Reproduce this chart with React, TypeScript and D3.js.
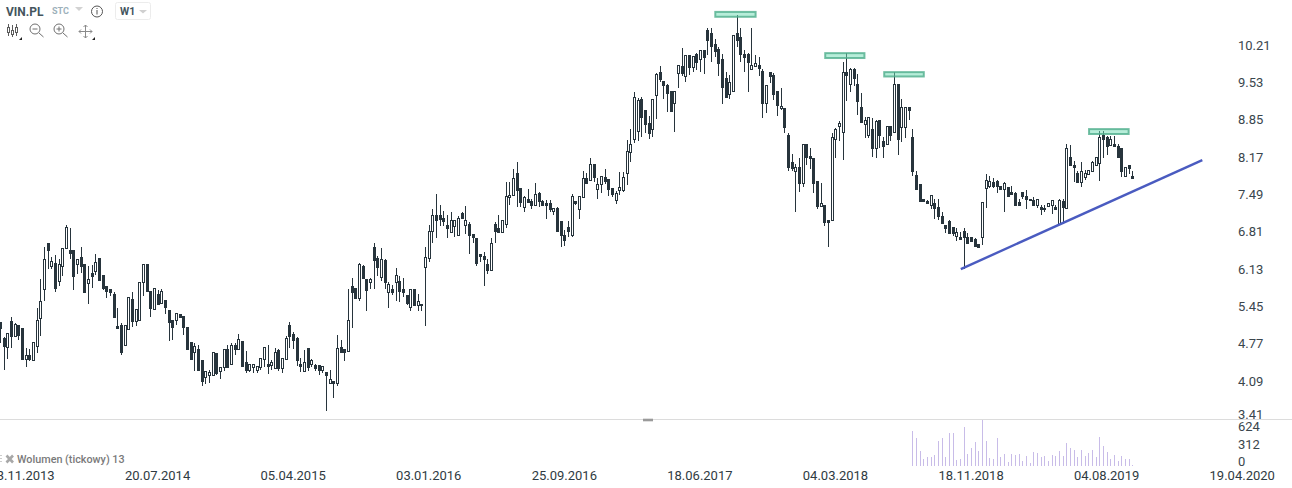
import React from "react";
import * as d3 from "d3";

const symbol = "VIN.PL";
const marketLabel = "STC";
const intervalLabel = "W1";
const volumeLabel = "Wolumen (tickowy) 13";

const opens = [
5.11,4.81,4.65,5.12,4.85,5.05,4.99,4.43,4.49,4.41,
4.67,5.18,5.71,6.57,6.14,6.19,5.87,6.14,6.46,6.43,
6.43,6.18,6.30,6.17,5.83,6.00,6.05,6.28,5.97,5.76,
5.71,5.63,5.04,5.05,4.69,4.97,5.53,5.13,5.15,5.84,
6.17,5.68,5.35,5.63,5.45,5.51,5.32,5.14,5.14,5.25,
5.22,5.01,4.73,4.56,4.60,4.40,4.10,4.13,4.12,4.53,
4.20,4.27,4.60,4.33,4.69,4.61,4.75,4.36,4.23,4.27,
4.23,4.27,4.42,4.34,4.32,4.25,4.59,4.26,4.42,5.05,
4.88,4.81,4.34,4.20,4.62,4.34,4.31,4.31,4.23,4.18,
3.99,4.02,3.99,4.64,4.60,4.58,5.76,5.74,5.55,6.13,
5.89,5.85,6.48,6.28,5.94,6.25,5.65,5.71,5.85,5.87,
5.71,5.60,5.39,5.71,5.42,5.41,6.11,6.28,6.79,7.07,
7.08,7.03,6.89,6.76,6.87,6.71,7.11,6.89,6.92,6.72,
6.66,6.35,6.32,6.17,6.06,6.92,6.83,6.76,6.91,7.40,
7.44,7.85,7.57,7.22,7.38,7.33,7.27,7.48,7.33,7.29,
7.29,7.16,7.20,6.96,6.70,6.85,6.70,7.33,7.18,7.40,
7.75,7.73,8.01,7.55,7.64,7.78,7.74,7.57,7.36,7.53,
7.54,7.86,8.23,8.48,8.63,9.21,9.02,8.78,8.67,9.28,
9.71,9.54,9.47,9.36,9.15,9.70,9.83,9.63,10.02,9.80,
10.04,9.96,10.11,10.48,10.44,10.22,10.13,9.96,9.60,9.30,
9.37,10.44,10.35,10.04,10.04,9.76,9.83,9.85,9.74,9.15,
9.71,9.65,9.36,9.04,9.04,8.55,8.05,7.89,7.97,7.66,
8.38,8.16,8.12,7.70,7.25,7.27,6.99,6.99,8.48,8.71,
8.61,9.71,9.50,9.76,9.49,9.06,8.75,8.55,8.67,8.32,
8.82,8.44,8.38,8.71,8.61,9.50,8.69,8.69,9.06,8.51,
7.81,7.64,7.38,7.33,7.27,7.29,7.22,7.05,6.89,6.96,
6.85,6.69,6.68,6.78,6.68,6.68,6.64,6.55,6.68,7.57,
7.62,7.68,7.70,7.61,7.55,7.59,7.51,7.48,7.31,7.50,
7.42,7.38,7.35,7.27,7.22,7.18,7.24,7.27,7.22,6.92,
7.33,7.20,8.14,7.99,7.86,7.68,7.77,7.84,7.89,7.99,
8.03,8.56,8.51,8.37,8.38,8.34,8.31,7.79,7.99,7.79,
];

const closes = [
5.00,4.67,4.90,4.85,5.07,4.87,4.42,4.49,4.42,4.73,
5.15,5.49,6.26,6.44,6.23,5.74,6.17,6.46,6.85,6.38,
5.96,6.26,6.14,5.66,5.89,5.96,6.22,5.88,5.74,5.68,
5.66,5.20,5.00,4.56,5.05,5.56,5.13,5.34,5.84,6.17,
5.68,5.37,5.74,5.44,5.67,5.39,5.11,5.02,5.27,5.20,
5.01,4.61,4.42,4.66,4.22,4.02,4.20,4.18,4.55,4.16,
4.28,4.60,4.28,4.69,4.61,4.79,4.30,4.23,4.33,4.33,
4.29,4.44,4.64,4.30,4.36,4.55,4.25,4.44,4.81,4.85,
4.78,4.41,4.30,4.36,4.28,4.40,4.26,4.23,4.29,4.12,
4.05,3.99,4.62,4.56,4.56,5.15,5.65,5.55,6.17,5.92,
5.70,5.89,6.25,6.11,6.26,5.85,5.80,5.66,5.98,5.68,
5.66,5.46,5.71,5.42,5.50,5.44,6.31,6.79,7.07,6.99,
7.01,6.97,6.84,6.98,6.98,7.03,7.02,6.98,6.70,6.68,
6.20,6.32,6.27,6.06,6.57,6.79,6.76,6.98,7.42,7.44,
7.75,7.54,7.32,7.40,7.32,7.27,7.46,7.33,7.27,7.26,
7.19,7.20,6.79,6.70,6.61,6.78,7.42,7.29,7.42,7.75,
7.66,8.01,7.77,7.64,7.79,7.70,7.56,7.46,7.48,7.59,
7.78,8.25,8.38,9.26,9.19,8.89,8.76,8.58,9.21,9.67,
9.59,9.47,9.33,8.99,9.37,9.85,9.69,10.02,9.80,10.00,
9.90,10.11,9.98,10.31,10.19,10.10,9.87,9.44,9.25,9.52,
10.39,10.31,10.04,9.99,9.90,9.85,9.87,9.79,9.15,9.47,
9.63,9.31,9.10,9.08,8.70,7.97,7.95,7.97,7.66,8.38,
8.15,8.12,7.67,7.25,7.29,6.95,6.95,8.51,8.66,8.77,
9.72,9.66,9.76,9.61,9.17,8.80,8.83,8.89,8.32,8.81,
8.56,8.34,8.71,8.56,9.50,8.48,9.06,9.06,9.02,7.88,
7.56,7.33,7.34,7.29,7.45,7.20,7.05,6.93,6.84,6.75,
6.75,6.76,6.64,6.68,6.57,6.60,6.51,6.49,7.32,7.72,
7.70,7.62,7.62,7.55,7.66,7.43,7.46,7.26,7.27,7.43,
7.37,7.35,7.27,7.38,7.18,7.21,7.29,7.35,7.18,7.35,
7.23,8.31,7.99,7.96,7.68,7.88,7.86,7.90,8.05,8.14,
8.51,8.48,8.35,8.47,8.34,8.14,7.88,7.96,7.94,7.75,
];

const highs = [
5.11,4.83,4.90,5.19,5.08,5.05,4.99,4.62,4.60,4.73,
5.36,5.89,6.48,6.57,6.31,6.34,6.26,6.46,6.90,6.83,
6.43,6.26,6.49,6.17,6.13,6.16,6.35,6.28,5.97,5.76,
5.71,5.65,5.36,5.08,5.05,5.57,5.65,5.34,5.84,6.17,
6.17,5.68,5.74,5.69,5.72,5.51,5.32,5.14,5.27,5.25,
5.22,5.01,4.73,4.71,4.69,4.40,4.20,4.22,4.56,4.53,
4.28,4.60,4.69,4.71,4.71,4.88,4.75,4.57,4.33,4.33,
4.29,4.44,4.64,4.68,4.40,4.62,4.60,4.44,4.85,5.10,
4.93,4.82,4.44,4.59,4.62,4.42,4.33,4.31,4.29,4.19,
4.22,4.02,4.86,4.77,4.60,5.71,5.91,5.74,6.19,6.15,
5.89,5.92,6.57,6.33,6.46,6.26,5.84,5.79,6.10,5.95,
5.91,5.61,5.71,5.71,5.63,5.44,6.49,6.89,7.18,7.46,
7.27,7.16,7.08,7.13,6.98,7.05,7.14,7.24,6.94,6.72,
6.66,6.35,6.39,6.27,6.66,6.94,7.07,6.98,7.68,7.68,
7.92,8.05,7.57,7.42,7.55,7.38,7.66,7.50,7.35,7.35,
7.35,7.20,7.22,6.96,6.81,6.96,7.46,7.33,7.42,7.88,
7.86,8.12,8.01,7.75,7.79,7.92,7.74,7.57,7.52,7.87,
7.87,8.46,8.67,9.34,9.23,9.25,9.02,8.91,9.21,9.69,
9.82,9.54,9.49,9.36,9.37,9.85,10.15,10.02,10.02,10.00,
10.06,10.11,10.11,10.52,10.52,10.32,10.17,10.04,9.72,9.66,
10.39,10.77,10.52,10.11,10.07,10.52,10.02,9.98,9.76,9.47,
9.71,9.69,9.36,9.41,9.04,8.58,8.21,8.02,8.12,8.38,
8.38,8.32,8.12,7.70,7.66,7.27,6.99,8.58,8.68,8.81,
9.89,10.07,9.78,9.78,9.67,9.32,8.88,8.89,8.86,8.83,
8.82,8.51,8.71,8.71,9.72,9.50,9.22,9.06,9.06,8.67,
7.88,7.64,7.38,7.35,7.45,7.38,7.37,7.14,6.89,6.98,
6.85,6.83,6.77,6.83,6.74,6.68,6.66,6.55,7.32,7.83,
7.79,7.75,7.72,7.61,7.69,7.59,7.62,7.51,7.38,7.50,
7.53,7.38,7.40,7.38,7.26,7.27,7.29,7.35,7.27,7.37,
7.37,8.39,8.36,8.07,7.88,8.05,7.91,7.90,8.07,8.14,
8.62,8.62,8.54,8.54,8.53,8.38,8.31,7.97,7.99,7.88,
];

const lows = [
4.71,4.22,4.42,4.62,4.85,4.77,4.42,4.28,4.39,4.41,
4.54,4.85,5.50,6.08,6.08,5.66,5.76,5.96,6.46,6.27,
5.70,5.99,6.00,5.66,5.44,5.74,5.97,5.86,5.70,5.55,
5.58,5.20,4.98,4.49,4.69,4.97,5.01,5.04,5.15,5.59,
5.66,5.20,5.35,5.41,5.45,5.25,4.76,4.78,5.05,5.20,
4.87,4.60,4.42,4.20,4.22,3.93,3.96,3.99,4.12,4.13,
4.05,4.21,4.27,4.33,4.50,4.61,4.30,4.17,4.18,4.17,
4.17,4.22,4.28,4.15,4.22,4.24,4.20,4.17,4.42,4.63,
4.61,4.30,4.19,4.20,4.20,4.27,4.20,4.12,4.16,3.47,
3.99,3.71,3.93,4.54,4.39,4.58,5.00,5.55,5.50,5.90,
5.30,5.72,5.72,5.95,5.87,5.71,5.37,5.61,5.50,5.48,
5.57,5.41,5.30,5.41,5.31,5.31,5.04,6.22,6.57,6.66,
6.88,6.88,6.66,6.76,6.68,6.70,7.02,6.72,6.36,6.57,
6.13,6.22,5.77,5.99,6.06,6.57,6.76,6.76,6.83,7.27,
7.42,7.23,7.23,7.14,7.31,7.18,7.27,7.23,7.26,7.01,
7.14,7.08,6.79,6.48,6.51,6.67,6.68,7.26,7.01,7.40,
7.64,7.70,7.69,7.38,7.48,7.65,7.42,7.40,7.28,7.45,
7.51,7.63,8.06,8.41,8.45,8.52,8.59,8.48,8.51,8.85,
9.52,9.21,8.98,8.98,8.61,9.42,9.63,9.53,9.66,9.72,
9.75,9.72,9.68,10.02,9.89,9.98,9.64,9.12,9.23,9.21,
9.37,10.18,9.89,9.72,9.35,9.76,9.83,9.63,8.87,8.96,
9.51,9.20,8.91,9.02,8.59,7.89,7.89,7.14,7.51,7.59,
8.00,7.93,7.48,7.18,7.25,6.88,6.49,6.99,8.12,8.45,
8.09,9.17,9.34,9.46,8.92,8.79,8.50,8.50,8.15,8.12,
8.32,8.12,8.38,8.45,8.61,8.19,8.43,8.50,8.82,7.80,
7.56,7.32,7.32,7.29,7.18,7.00,6.98,6.92,6.75,6.75,
6.69,6.60,6.62,6.09,6.57,6.59,6.49,6.49,6.53,7.21,
7.57,7.58,7.49,7.53,7.14,7.41,7.44,7.24,7.26,7.38,
7.19,7.33,7.25,7.21,7.08,7.14,7.22,7.10,7.18,6.92,
6.92,7.20,7.98,7.69,7.68,7.60,7.73,7.84,7.88,7.99,
7.71,8.12,8.19,8.37,8.34,8.12,7.78,7.79,7.84,7.75,
];

const volumeStartBar = 249;
const volumes = [
475,380,203,95,122,122,149,339,380,122,
447,447,81,95,529,163,244,325,203,624,
339,108,95,380,122,163,54,163,149,163,
68,136,36,190,176,122,136,68,149,136,
203,136,312,244,217,122,217,136,176,217,
122,393,271,190,95,149,68,136,95,95,13,
];

const priceTicks = ["10.21","9.53","8.85","8.17","7.49","6.81","6.13","5.45","4.77","4.09","3.41"];
const volumeTicks = [624, 312, 0];
const dateBars = [6,43,80,117,154,191,228,265,302,339];
const dateLabels = ["03.11.2013","20.07.2014","05.04.2015","03.01.2016","25.09.2016","18.06.2017","04.03.2018","18.11.2018","04.08.2019","19.04.2020"];

const zoneBars = [[195.2,206.2],[225.2,235.9],[241.3,252.1],[297.2,308]];
const zonePrices = [[10.82,10.73],[10.06,9.97],[9.71,9.63],[8.66,8.57]];
const trendBars = [262.2, 328.1];
const trendPrices = [6.08, 8.09];

const WIDTH = 1292;
const HEIGHT = 488;
const INK = "#27343c";
const FONT = "Roboto, sans-serif";

export default function App() {
  const x = d3.scaleLinear().domain([0, 309]).range([0, 1132.3]);
  const y = d3.scaleLinear().domain([3.41, 10.21]).range([414, 45]);
  // tick labels sit on their own evenly spaced ladder; the lowest one is held above the separator
  const yPriceLabel = d3.scaleLinear().domain([4.09, 10.21]).range([381, 45]);
  const yVol = d3.scaleLinear().domain([0, 624]).range([466, 420]);
  const yVolLabel = d3.scaleLinear().domain([0, 624]).range([461.5, 426.5]);
  const trend = d3.line<number>().x((d) => x(d)).y((_, i) => y(trendPrices[i]));

  return (
    <svg
      width={WIDTH}
      height={HEIGHT}
      viewBox={`0 0 ${WIDTH} ${HEIGHT}`}
      style={{ position: "absolute", left: 0, top: 0, background: "#fff", fontFamily: FONT }}
    >
      {/* candles */}
      <g>
        {opens.map((o, i) => {
          const c = closes[i];
          const cx = Math.round(x(i));
          const up = c > o;
          const top = Math.round(y(Math.max(o, c)));
          const bottom = Math.round(y(Math.min(o, c)));
          return (
            <g key={i} shapeRendering="crispEdges">
              <line x1={cx + 0.5} x2={cx + 0.5} y1={y(highs[i])} y2={y(lows[i])} stroke={INK} strokeWidth={1} />
              {up ? (
                <rect x={cx - 0.5} y={top + 0.5} width={2} height={Math.max(1, bottom - top)} fill="#fff" stroke={INK} strokeWidth={1} />
              ) : (
                <rect x={cx - 1} y={top} width={3} height={Math.max(2, bottom - top + 1)} fill={INK} />
              )}
            </g>
          );
        })}
      </g>

      {/* resistance zones */}
      {zoneBars.map((b, i) => (
        <rect
          key={i}
          x={x(b[0])}
          width={x(b[1]) - x(b[0])}
          y={y(zonePrices[i][0])}
          height={y(zonePrices[i][1]) - y(zonePrices[i][0])}
          fill="#6fdcb4"
          fillOpacity={0.5}
          stroke="#4fae8c"
          strokeOpacity={0.8}
          strokeWidth={2}
        />
      ))}

      {/* trend line */}
      <path d={trend(trendBars) as string} fill="none" stroke="#4a5bc0" strokeWidth={2.4} />

      {/* separator */}
      <line x1={0} x2={WIDTH} y1={419.5} y2={419.5} stroke="#dcdcdc" strokeWidth={1.2} />
      <rect x={643} y={418.7} width={10} height={2.6} fill="#9a9a9a" />

      {/* volume */}
      <g shapeRendering="crispEdges">
        {volumes.map((v, i) => {
          const cx = Math.round(x(volumeStartBar + i));
          return <rect key={i} x={cx} y={yVol(v)} width={1} height={466 - yVol(v)} fill="#c8bce8" />;
        })}
      </g>

      {/* price axis */}
      <g fontSize={13} fill="#3a464d">
        {priceTicks.map((t) => (
          <text key={t} x={1238} y={Math.min(yPriceLabel(+t), 414)} dy="0.35em">{t}</text>
        ))}
        {volumeTicks.map((t) => (
          <text key={t} x={1238} y={yVolLabel(t)} dy="0.35em">{t}</text>
        ))}
      </g>

      {/* date axis */}
      <g fontSize={13} fill="#2f3b42" textAnchor="middle">
        {dateBars.map((b, i) => (
          <text key={b} x={x(b)} y={480}>{dateLabels[i]}</text>
        ))}
      </g>

      {/* volume legend */}
      <g>
        <rect x={0} y={455} width={2} height={1} fill="#ccc" />
        <rect x={0} y={458} width={2} height={1} fill="#ccc" />
        <rect x={0} y={461} width={2} height={1} fill="#ccc" />
        <path d="M6.5 455.5 L13 462.5 M13 455.5 L6.5 462.5" stroke="#a8a8a8" strokeWidth={2.6} fill="none" />
        <text x={17} y={463} fontSize={10.8} fontWeight={500} fill="#7a7a7a">{volumeLabel}</text>
      </g>

      {/* header */}
      <text x={6} y={15.5} fontSize={12} fontWeight={700} fill="#45555e">{symbol}</text>
      <text x={52} y={14} fontSize={9} fontWeight={700} fill="#9db1bb">{marketLabel}</text>
      <path d="M75 7 H83 L79 11 Z" fill="#d2d2d2" />
      <circle cx={97} cy={11.5} r={5.5} fill="none" stroke="#555" strokeWidth={1} />
      <rect x={96.5} y={8} width={1} height={1} fill="#555" />
      <rect x={96.5} y={10} width={1} height={4.5} fill="#555" />
      <rect x={115.5} y={2.5} width={35} height={17} rx={2} fill="#fff" stroke="#ececec" />
      <text x={120} y={15} fontSize={10.5} fontWeight={700} fill="#45555e">{intervalLabel}</text>
      <path d="M139 10 H147 L143 13.5 Z" fill="#d0d0d0" />

      {/* toolbar */}
      <g stroke="#5c5c5c" fill="none" strokeWidth={1}>
        <path d="M8.5 24 V36 M12.5 25 V37 M16.5 24 V36" />
        <rect x={7.5} y={27.5} width={2} height={5} fill="#fff" />
        <rect x={11.5} y={30.5} width={2} height={4} fill="#fff" />
        <rect x={15.5} y={27.5} width={2} height={5} fill="#fff" />
      </g>
      <g stroke="#707070" fill="none" strokeWidth={1}>
        <circle cx={35} cy={29} r={5} />
        <path d="M32.5 29 H37.5 M39 33 L43.5 37" />
        <circle cx={59} cy={29} r={5} />
        <path d="M56.5 29 H61.5 M59 26.5 V31.5 M63 33 L67.5 37" />
      </g>
      <g stroke="#8a8a8a" fill="none" strokeWidth={1}>
        <path d="M85.5 25 V38 M79 31.5 H92 M83.5 27 L85.5 25 L87.5 27 M83.5 36 L85.5 38 L87.5 36 M81 29.5 L79 31.5 L81 33.5 M90 29.5 L92 31.5 L90 33.5" />
      </g>
      <path d="M19 40 H22 V37 Z" fill="#222" />
      <path d="M92 40 H95 V37 Z" fill="#222" />
    </svg>
  );
}
